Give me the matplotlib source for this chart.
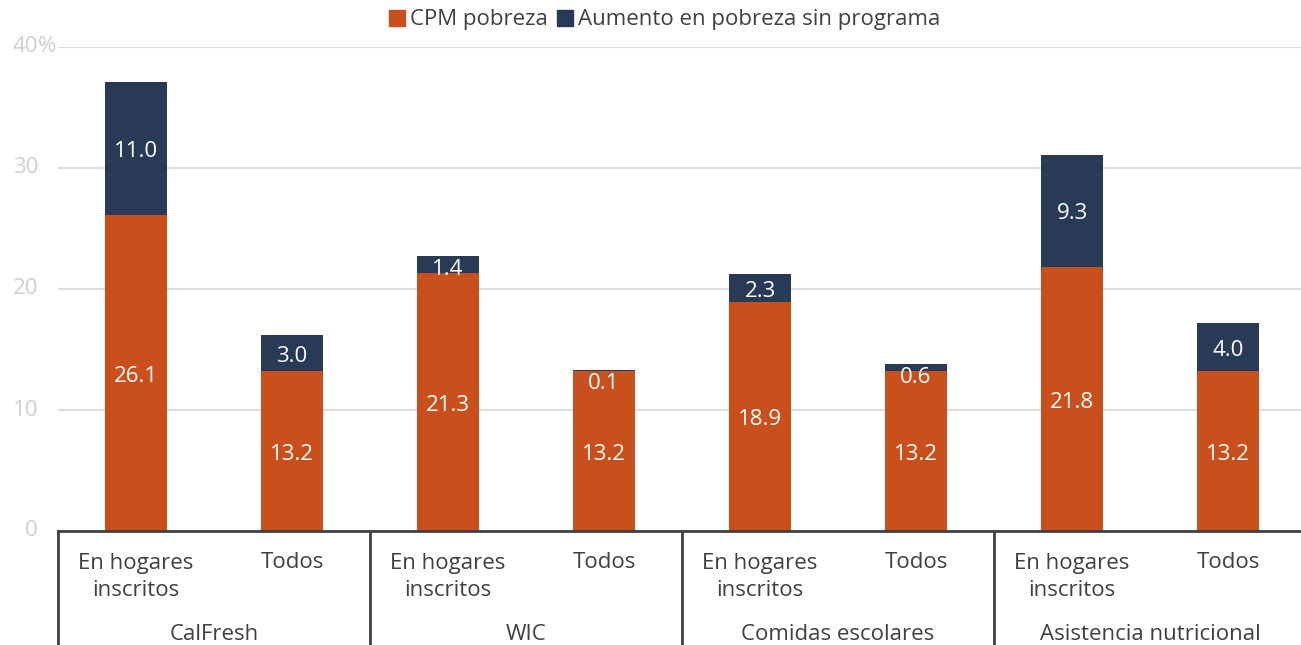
import matplotlib
matplotlib.use("Agg")
import matplotlib.pyplot as plt
from matplotlib.transforms import blended_transform_factory, offset_copy
from matplotlib.patches import Patch
import numpy as np

plt.rcParams['font.family'] = ['Open Sans', 'DejaVu Sans']

categories = ["En hogares\ninscritos", "Todos"] * 4
groups = ["CalFresh", "WIC", "Comidas escolares", "Asistencia nutricional"]
cpm = [26.1, 13.2, 21.3, 13.2, 18.9, 13.2, 21.8, 13.2]
aumento = [11.0, 3.0, 1.4, 0.1, 2.3, 0.6, 9.3, 4.0]
series_names = ["CPM pobreza", "Aumento en pobreza sin programa"]
yticks = [0, 10, 20, 30, 40]

orange = "#C9501C"
navy = "#283A55"
dark = "#404040"
light = "#CFCFCF"
FS = 16

W, H = 1301, 645
fig = plt.figure(figsize=(W / 100, H / 100), dpi=100)
ax = fig.add_axes([58 / W, 114 / H, 1248 / W, 484 / H])

x = np.arange(len(cpm))
ax.bar(x, cpm, width=0.4, color=orange, zorder=3)
ax.bar(x, aumento, width=0.4, bottom=cpm, color=navy, zorder=3)

ax.set_xlim(-0.5, len(cpm) - 0.5)
ax.set_ylim(0, 40)
ax.set_yticks(yticks)
ax.yaxis.grid(True, color="#DDDDDD", linewidth=1.5, zorder=0)
ax.set_yticklabels([])
ax.tick_params(axis='y', length=0)
ax.set_xticks([])
for s in ["top", "right", "left"]:
    ax.spines[s].set_visible(False)
ax.spines["bottom"].set_color(dark)
ax.spines["bottom"].set_linewidth(2)
ax.spines["bottom"].set_zorder(4)

# y tick labels
tr_fy = blended_transform_factory(fig.transFigure, ax.transData)
for t in yticks:
    ax.text(38 / W, t, str(t), transform=tr_fy, ha="right", va="center",
            fontsize=FS, color=light)
ax.text(38 / W, 40, "%", transform=tr_fy, ha="left", va="center",
        fontsize=FS, color=light)

# value labels
px_per_unit = 484 / 40
off = 10 / px_per_unit
tr_val = offset_copy(ax.transData, fig=fig, x=0, y=-3, units='dots')
for xi, c, a in zip(x, cpm, aumento):
    ax.text(xi, c / 2, f"{c:.1f}", ha="center", va="center", color="white",
            fontsize=FS, zorder=5, transform=tr_val)
    top = c + a
    yy = min(c + a / 2, top - off)
    ax.text(xi, yy, f"{a:.1f}", ha="center", va="center", color="white",
            fontsize=FS, zorder=5, transform=tr_val)

# category labels
tr_dx = blended_transform_factory(ax.transData, fig.transFigure)
for xi, lab in zip(x, categories):
    for j, line in enumerate(lab.split("\n")):
        ax.text(xi, 1 - (563 + 27 * j) / H, line, transform=tr_dx, ha="center",
                va="center", fontsize=FS, color=dark, clip_on=False)
for i, g in enumerate(groups):
    ax.text(2 * i + 0.5, 1 - 634 / H, g, transform=tr_dx, ha="center",
            va="center", fontsize=FS, color=dark)
for sep in [-0.5, 1.5, 3.5, 5.5, 7.5]:
    ax.plot([sep, sep], [1 - 531 / H, 0], transform=tr_dx, color=dark,
            linewidth=2, clip_on=False, zorder=4)

handles = [Patch(color=orange), Patch(color=navy)]
fig.legend(handles, series_names, loc="center", bbox_to_anchor=(665 / W, 1 - 20 / H),
           ncol=2, frameon=False, fontsize=FS, handlelength=0.7, handleheight=0.7,
           handletextpad=0.25, columnspacing=0.4, labelcolor="#404040")

fig.savefig("out.png", dpi=100)
